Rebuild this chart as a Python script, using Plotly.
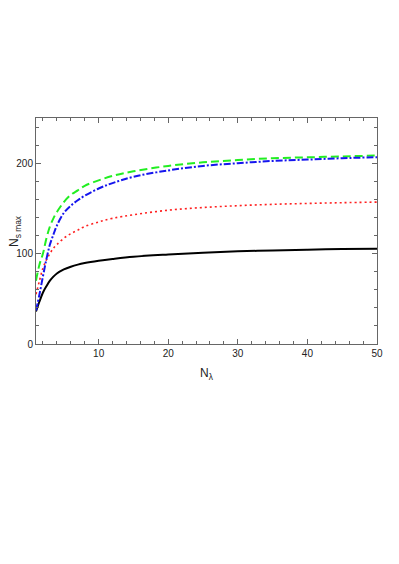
import plotly.graph_objects as go

# N_lambda sample points
n_lambda = [1, 1.5, 2, 2.5, 3, 3.5, 4, 5, 6, 7, 8, 10, 12, 15, 20, 25, 30, 35, 40, 45, 50]

ns_black = [36, 47, 57, 64, 70, 74.5, 78, 82.5, 85.5, 87.8, 89.5, 92, 94, 96.5, 99, 101, 102.5, 103.5, 104.3, 105, 105.5]
ns_red = [55, 70, 84, 93, 100, 106, 110, 117, 122, 126, 130, 135, 139, 143, 148, 151, 153, 154.5, 155.5, 156.3, 157]
ns_blue = [37, 55, 75, 94, 110, 121, 131, 145, 153, 159, 164, 172, 178, 185, 192, 197, 200, 202.5, 204, 205.5, 206.7]
ns_green = [70, 88, 100, 117, 130, 139, 146, 157, 165, 170, 175, 181, 186, 191, 197, 201, 203.5, 205.5, 206.5, 207.5, 208.5]

fig = go.Figure()

# order: back to front
series = [
    (ns_red, '#ff2020', '2px,3px', 1.6),
    (ns_black, '#000000', 'solid', 2),
    (ns_green, '#22ee22', '8px,4px', 2),
    (ns_blue, '#1515ee', '7px,2px,2px,2px', 2),
]
for ys, color, dash, width in series:
    fig.add_trace(go.Scatter(
        x=n_lambda, y=ys, mode='lines',
        line=dict(color=color, dash=dash, width=width, shape='spline', smoothing=1),
        showlegend=False, hoverinfo='skip'
    ))

font_family = 'Liberation Sans, Arial'
axis_common = dict(
    showgrid=False, zeroline=False, automargin=False,
    showline=True, linecolor='#666666', linewidth=1, mirror='allticks',
    ticks='inside', ticklen=5, tickcolor='#666666', tickwidth=1,
    tickfont=dict(family=font_family, size=10, color='#222222'),
)

fig.update_xaxes(
    range=[1, 50], tickvals=[10, 20, 30, 40, 50],
    minor=dict(dtick=2, tick0=0, ticks='inside', ticklen=3, tickcolor='#666666'),
    **axis_common
)
fig.update_yaxes(
    range=[0, 250], tickvals=[0, 100, 200],
    minor=dict(dtick=20, tick0=0, ticks='inside', ticklen=3, tickcolor='#666666'),
    **axis_common
)

# axis titles as annotations for exact placement
fig.add_annotation(text='N<sub>λ</sub>', xref='paper', yref='paper', x=0.5, y=0,
                   yshift=-30, showarrow=False, yanchor='middle',
                   font=dict(family=font_family, size=12, color='#222222'))
fig.add_annotation(text='N<sub>s max</sub>', xref='paper', yref='paper', x=0, y=0.5,
                   xshift=-21, showarrow=False, textangle=-90, xanchor='center',
                   font=dict(family=font_family, size=12, color='#222222'))

# the page body adds an 8px offset, so margins are trimmed by 8
fig.update_layout(
    width=399, height=564,
    margin=dict(l=28, r=30, t=110, b=228, autoexpand=False),
    paper_bgcolor='white', plot_bgcolor='white',
    showlegend=False,
)

fig.write_html("out.html")
